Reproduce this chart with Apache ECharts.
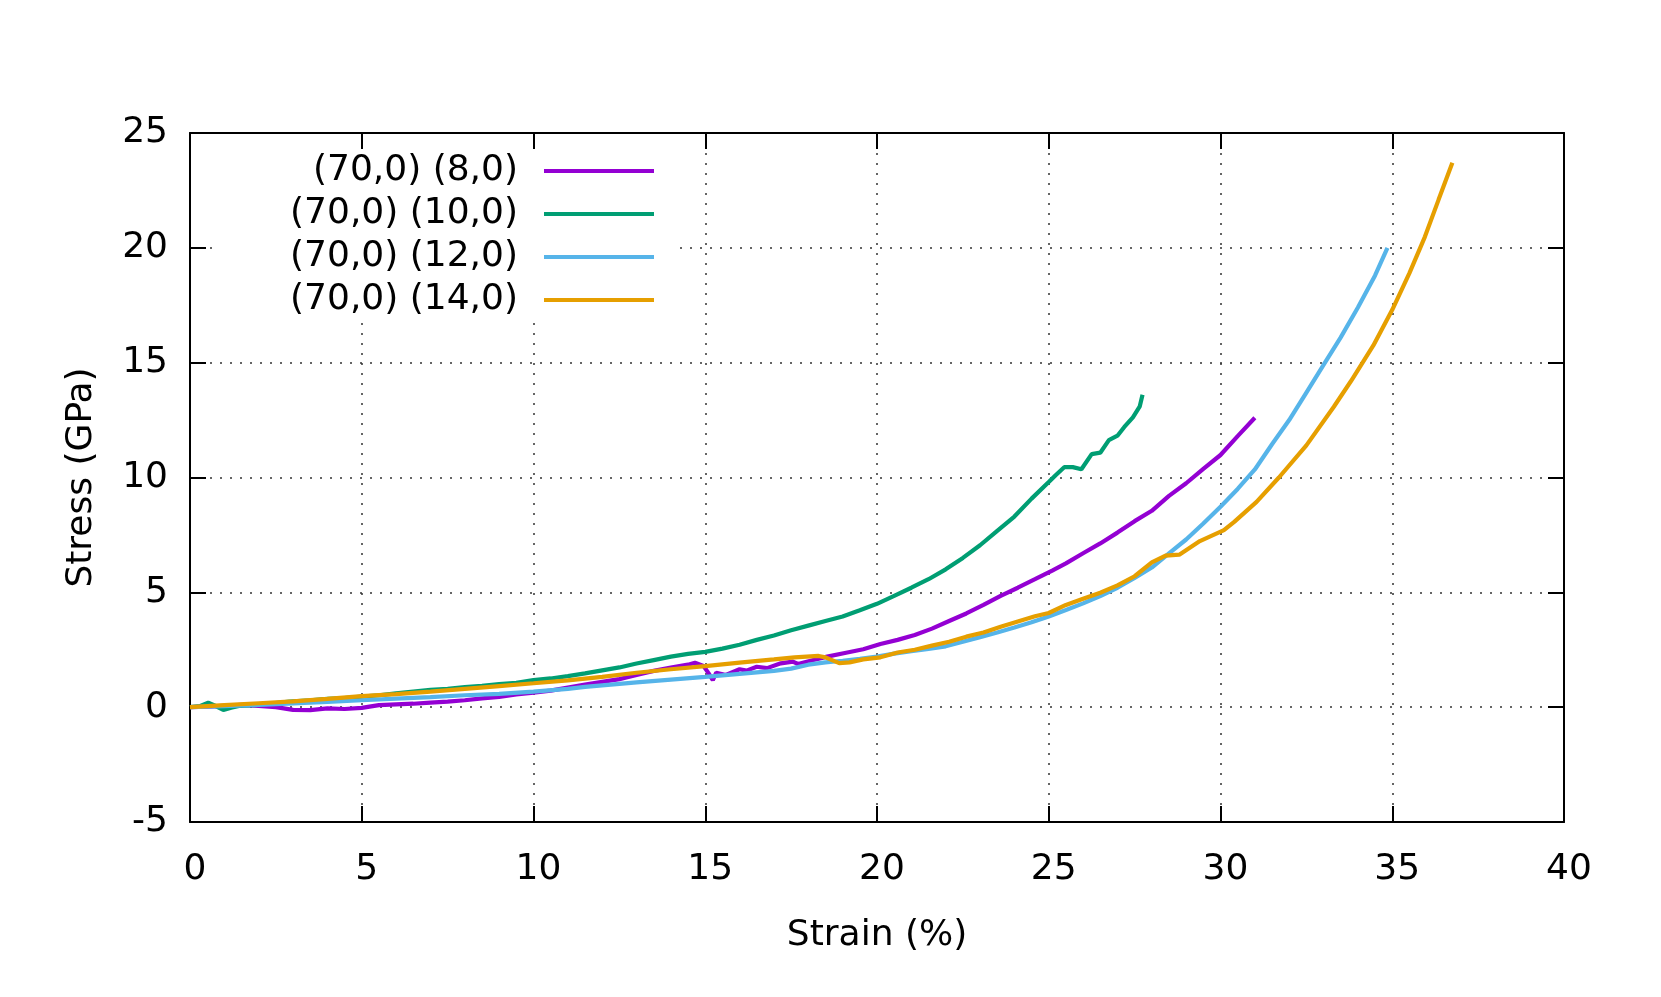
<!DOCTYPE html>
<html>
<head>
<meta charset="utf-8">
<title>Stress vs Strain</title>
<script src="https://cdn.jsdelivr.net/npm/echarts@6/dist/echarts.min.js"></script>
<style>
  html, body { margin: 0; padding: 0; background: #fff; }
  #chart { width: 1661px; height: 997px; }
</style>
</head>
<body>
<div id="chart"></div>
<script>
// series names
var names = ['(70,0) (8,0)', '(70,0) (10,0)', '(70,0) (12,0)', '(70,0) (14,0)'];
var colors = ['#9400d3', '#009e73', '#56b4e9', '#e69f00'];

// (70,0) (8,0)
var strain8 = [0, 0.5, 1, 1.5, 2, 2.5, 3, 3.5, 4, 4.5, 5, 5.5, 6, 6.5, 7, 7.5, 8, 8.5, 9, 9.5,
  10, 10.5, 11, 11.5, 12, 12.5, 13, 13.5, 14, 14.5, 14.7, 14.95, 15.1, 15.22, 15.32, 15.6, 16.0, 16.2,
  16.5, 16.8, 17.2, 17.55, 17.7, 18.15, 18.55, 19.1, 19.6, 20.1, 20.6, 21.1, 21.6, 22.1, 22.6, 23.1,
  23.6, 24.1, 24.6, 25.1, 25.5, 26.0, 26.5, 27.0, 27.5, 28.0, 28.5, 29.0, 29.5, 30.0, 30.5, 31.0];
var stress8 = [0, 0.02, 0.06, 0.1, 0.05, 0, -0.12, -0.13, -0.05, -0.08, -0.03, 0.09, 0.12, 0.15, 0.2, 0.24,
  0.3, 0.38, 0.45, 0.55, 0.63, 0.72, 0.85, 0.98, 1.1, 1.22, 1.4, 1.58, 1.72, 1.85, 1.93, 1.79, 1.47, 1.18,
  1.5, 1.4, 1.65, 1.59, 1.76, 1.7, 1.91, 1.98, 1.88, 2.05, 2.2, 2.37, 2.52, 2.75, 2.93, 3.14, 3.42, 3.75,
  4.08, 4.45, 4.85, 5.2, 5.57, 5.95, 6.26, 6.7, 7.13, 7.6, 8.1, 8.55, 9.2, 9.75, 10.38, 10.98, 11.8, 12.6];

// (70,0) (10,0)
var strain10 = [0, 0.3, 0.53, 0.75, 0.97, 1.2, 1.46, 2, 2.5, 2.9, 3.5, 4, 4.5, 5, 5.5, 6, 6.5, 7, 7.5, 8,
  8.5, 9, 9.5, 10, 10.5, 11, 11.5, 12, 12.5, 13, 13.5, 14, 14.5, 15, 15.5, 16, 16.5, 17, 17.5, 18, 18.5,
  19, 19.5, 20, 20.5, 21, 21.5, 22, 22.5, 23, 23.5, 24, 24.5, 25, 25.2, 25.45, 25.7, 25.95, 26.25, 26.5,
  26.75, 27.0, 27.2, 27.45, 27.65, 27.73];
var stress10 = [0, 0.05, 0.19, 0.05, -0.12, -0.02, 0.06, 0.1, 0.18, 0.24, 0.3, 0.36, 0.4, 0.46, 0.52, 0.6,
  0.68, 0.75, 0.8, 0.87, 0.93, 1.0, 1.06, 1.18, 1.25, 1.35, 1.47, 1.6, 1.73, 1.9, 2.05, 2.2, 2.32, 2.41,
  2.55, 2.72, 2.93, 3.12, 3.35, 3.55, 3.75, 3.95, 4.22, 4.5, 4.85, 5.2, 5.57, 6.0, 6.5, 7.05, 7.68, 8.3,
  9.08, 9.8, 10.1, 10.45, 10.45, 10.36, 11.02, 11.08, 11.63, 11.82, 12.2, 12.62, 13.1, 13.6];

// (70,0) (12,0)
var strain12 = [0, 1, 2, 3, 4, 5, 6, 7, 8, 9, 10, 11, 11.5, 12, 13, 14, 15, 16, 17, 17.5, 18, 18.5, 19,
  19.5, 20, 20.5, 21, 21.5, 22, 22.5, 23, 23.5, 24, 24.5, 25, 25.5, 26, 26.5, 27, 27.5, 28, 28.5, 29, 29.5,
  30, 30.5, 31, 31.5, 32, 32.5, 33, 33.5, 34, 34.5, 34.86];
var stress12 = [0, 0.04, 0.1, 0.16, 0.23, 0.3, 0.37, 0.44, 0.52, 0.58, 0.68, 0.8, 0.88, 0.95, 1.08, 1.2,
  1.32, 1.45, 1.58, 1.68, 1.85, 1.95, 2.02, 2.1, 2.2, 2.33, 2.44, 2.54, 2.65, 2.85, 3.05, 3.25, 3.47, 3.7,
  3.95, 4.23, 4.52, 4.84, 5.2, 5.63, 6.08, 6.7, 7.3, 8.0, 8.73, 9.5, 10.35, 11.45, 12.5, 13.7, 14.9, 16.1,
  17.4, 18.8, 20.0];

// (70,0) (14,0)
var strain14 = [0, 1, 2, 3, 4, 5, 6, 7, 8, 9, 10, 11, 12, 13, 14, 15, 16, 17, 17.6, 18.3, 18.5, 18.9,
  19.2, 19.6, 20.1, 20.6, 21.1, 21.6, 22.1, 22.6, 23.1, 23.6, 24.1, 24.6, 25.0, 25.5, 26.0, 26.5, 27.0,
  27.5, 28.0, 28.4, 28.8, 29.4, 30.1, 30.4, 31.05, 31.7, 32.5, 33.3, 33.8, 34.45, 35.0, 35.5, 35.95,
  36.35, 36.75];
var stress14 = [0, 0.09, 0.17, 0.25, 0.36, 0.48, 0.57, 0.68, 0.8, 0.92, 1.04, 1.17, 1.32, 1.5, 1.65, 1.79,
  1.94, 2.08, 2.17, 2.23, 2.17, 1.92, 1.95, 2.08, 2.17, 2.38, 2.5, 2.68, 2.85, 3.07, 3.25, 3.5, 3.73, 3.96,
  4.1, 4.45, 4.72, 4.98, 5.3, 5.7, 6.3, 6.6, 6.64, 7.23, 7.71, 8.07, 8.94, 10.0, 11.4, 13.08, 14.2, 15.75,
  17.3, 18.9, 20.48, 22.1, 23.7];

var xTicks = { min: 0, max: 40, interval: 5 };
var yTicks = { min: -5, max: 25, interval: 5 };

function pairs(xs, ys) {
  return xs.map(function (x, i) { return [x, ys[i]]; });
}

var font = 'DejaVu Sans';
var chart = echarts.init(document.getElementById('chart'));

var gridLine = { show: true, showMinLine: false, showMaxLine: false,
  lineStyle: { color: '#333', width: 1.5, type: [2, 8] } };
var lineStyleAxis = { show: true, onZero: false, lineStyle: { color: '#000', width: 2 } };
var tickStyle = { show: true, inside: true, length: 16, lineStyle: { color: '#000', width: 2 } };

var option = {
  backgroundColor: '#fff',
  animation: false,
  grid: { left: 190, right: 97, top: 133, bottom: 175 },
  legend: {
    orient: 'vertical',
    align: 'right',
    right: 985,
    top: 153,
    padding: [0, 22, 0, 74],
    itemGap: 7,
    itemWidth: 110,
    itemHeight: 4,
    icon: 'rect',
    backgroundColor: '#fff',
    itemStyle: { borderWidth: 0 },
    textStyle: { fontFamily: font, fontSize: 36, color: '#000', lineHeight: 36, padding: [0, 21, 0, 0] },
    data: names
  },
  xAxis: [{
    type: 'value', position: 'bottom',
    min: xTicks.min, max: xTicks.max, interval: xTicks.interval,
    name: 'Strain (%)', nameLocation: 'middle', nameGap: 96,
    nameTextStyle: { fontFamily: font, fontSize: 36, color: '#000' },
    axisLine: lineStyleAxis, axisTick: tickStyle,
    axisLabel: { fontFamily: font, fontSize: 36, color: '#000', margin: 30, padding: [0, 0, 0, 10] },
    splitLine: gridLine
  }, {
    type: 'value', position: 'top',
    min: xTicks.min, max: xTicks.max, interval: xTicks.interval,
    axisLine: lineStyleAxis, axisTick: tickStyle,
    axisLabel: { show: false }, splitLine: { show: false }
  }],
  yAxis: [{
    type: 'value', position: 'left',
    min: yTicks.min, max: yTicks.max, interval: yTicks.interval,
    name: 'Stress (GPa)', nameLocation: 'middle', nameGap: 90,
    nameTextStyle: { fontFamily: font, fontSize: 36, color: '#000' },
    axisLine: lineStyleAxis, axisTick: tickStyle,
    axisLabel: { fontFamily: font, fontSize: 36, color: '#000', margin: 22 },
    splitLine: gridLine
  }, {
    type: 'value', position: 'right',
    min: yTicks.min, max: yTicks.max, interval: yTicks.interval,
    axisLine: lineStyleAxis, axisTick: tickStyle,
    axisLabel: { show: false }, splitLine: { show: false }
  }],
  series: [
    [strain8, stress8], [strain10, stress10], [strain12, stress12], [strain14, stress14]
  ].map(function (d, i) {
    return {
      name: names[i],
      type: 'line',
      xAxisIndex: 0,
      yAxisIndex: 0,
      symbol: 'none',
      color: colors[i],
      lineStyle: { width: 4.2, color: colors[i] },
      data: pairs(d[0], d[1])
    };
  })
};

chart.setOption(option);
</script>
</body>
</html>
